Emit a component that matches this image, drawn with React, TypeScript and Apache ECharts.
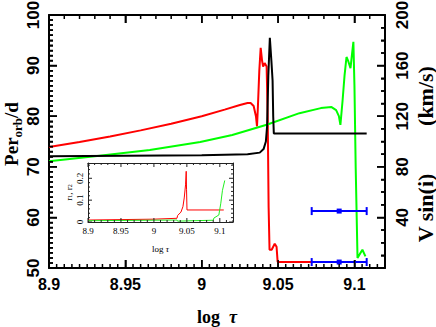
import React, { useEffect, useRef } from 'react';
import * as echarts from 'echarts';

// ---- data (log tau, value) ----
const redPer: [number, number][] = [
  [8.9, 73.9], [8.92, 74.9], [8.94, 76.0], [8.96, 77.2], [8.98, 78.5], [9.0, 80.0],
  [9.015, 81.3], [9.025, 82.2], [9.03, 82.6], [9.032, 82.6], [9.034, 82.0], [9.0355, 80.0],
  [9.0362, 78.0], [9.0368, 82], [9.0377, 89], [9.0386, 93.5], [9.0395, 91], [9.0402, 89.8],
  [9.0412, 90.5], [9.0425, 89.8], [9.0432, 80], [9.0438, 62], [9.0444, 53.6], [9.0458, 53.6],
  [9.0478, 54.8], [9.049, 54.2], [9.0497, 51.2], [9.108, 51.2],
];
const blackPer: [number, number][] = [
  [8.9, 72.1], [8.95, 72.2], [9.0, 72.3], [9.03, 72.5], [9.038, 72.8], [9.0405, 73.5],
  [9.042, 75], [9.0428, 78], [9.0436, 88], [9.0446, 95.5], [9.0456, 91], [9.0464, 87],
  [9.0468, 80], [9.0472, 76.6], [9.108, 76.6],
];
const greenPer: [number, number][] = [
  [8.9, 71.1], [8.933, 72.2], [8.966, 73.3], [8.999, 74.9], [9.02, 76.3], [9.0425, 78.3],
  [9.064, 80.6], [9.078, 81.6], [9.085, 81.8], [9.088, 81.2], [9.0898, 80], [9.0908, 78.3],
  [9.0922, 83], [9.0935, 88], [9.0948, 91.7], [9.0958, 91], [9.0974, 89.5], [9.0985, 92.5],
  [9.0993, 94.7], [9.1, 86], [9.1008, 70], [9.102, 52], [9.1052, 53.6], [9.1072, 52.3],
];
// V sin(i) measurements: centre log tau, v (km/s), half-width in log tau
const vsiniTau = [9.09, 9.09];
const vsiniVal = [45, 4.7];
const vsiniErr = [0.018, 0.018];

// inset: radii
const redR: [number, number][] = [
  [8.9, 0.009], [9.0, 0.013], [9.035, 0.017], [9.036, 0.03], [9.041, 0.045], [9.044, 0.07],
  [9.046, 0.11], [9.048, 0.17], [9.049, 0.232], [9.0495, 0.15], [9.0502, 0.055], [9.106, 0.055],
];
const greenR: [number, number][] = [
  [8.9, 0.006], [9.035, 0.009], [9.036, 0.004], [9.06, 0.006], [9.09, 0.008], [9.091, 0.018],
  [9.0985, 0.032], [9.1015, 0.086], [9.104, 0.145], [9.1075, 0.19],
];

const xTickLabels = ['8.9', '8.95', '9', '9.05', '9.1'];
const perTicks = ['50', '60', '70', '80', '90', '100'];
const vTicks = ['40', '80', '120', '160', '200'];
const rTicks = ['0', '0.1', '0.2'];

const SERIF = 'Liberation Serif';
const SANS = 'Liberation Sans';

// layout
const MAIN = { left: 49, top: 15, width: 336, height: 253 };
const INSET = { left: 88, top: 163, width: 145, height: 59 };
const X_RANGE = [8.9, 9.12];
const PER_RANGE = [50, 100];
const V_RANGE = [0, 200];
const R_RANGE = [0, 0.27];

const fmt = (v: number) => String(parseFloat(v.toFixed(3)));

// tick marks as short segments in data units (gap items break the line)
function tickSegs(range: number[], step: number, every: number, upto: number,
  at: number, dir: number, majorU: number, minorU: number, vertical: boolean) {
  const out: any[] = [];
  const n = Math.round((upto - range[0]) / step);
  for (let k = 0; k <= n; k++) {
    const v = range[0] + k * step;
    const len = (k % every === 0 ? majorU : minorU) * dir;
    if (vertical) { out.push([v, at], [v, at + len]); } else { out.push([at, v], [at + len, v]); }
    out.push(['-', '-']);
  }
  return out;
}

const majorTick = { show: true, inside: true, length: 8, lineStyle: { color: '#000', width: 1.5 } };

const frameAxis = (extra: any) => ({
  type: 'value',
  axisLine: { show: true, onZero: false, lineStyle: { color: '#000', width: 2 } },
  axisTick: { show: false },
  minorTick: { show: false },
  splitLine: { show: false },
  minorSplitLine: { show: false },
  axisLabel: { show: false },
  ...extra,
});

const tickSeries = (data: any[], xi: number, yi: number, color: string, width: number) => ({
  type: 'line', xAxisIndex: xi, yAxisIndex: yi, data, showSymbol: false, symbol: 'none',
  connectNulls: false, clip: false, lineStyle: { color, width }, z: 6,
});

export default function App() {
  const ref = useRef<HTMLDivElement>(null);
  useEffect(() => {
    const chart = echarts.init(ref.current!, null, { renderer: 'svg' });
    const blueData = vsiniTau.map((t, i) => [t, vsiniVal[i], t - vsiniErr[i], t + vsiniErr[i]]);
    const insetLine = { color: '#222', width: 1 };

    // pixel -> data unit conversions from the grid geometry
    const mx = (X_RANGE[1] - X_RANGE[0]) / MAIN.width;
    const mp = (PER_RANGE[1] - PER_RANGE[0]) / MAIN.height;
    const ix = (X_RANGE[1] - X_RANGE[0]) / INSET.width;
    const ir = (R_RANGE[1] - R_RANGE[0]) / INSET.height;

    const mainTicks = [
      ...tickSegs(X_RANGE, 0.005, 10, X_RANGE[1], PER_RANGE[0], 1, 8 * mp, 4 * mp, true),
      ...tickSegs(X_RANGE, 0.01, 5, X_RANGE[1], PER_RANGE[1], -1, 8 * mp, 4 * mp, true),
      ...tickSegs(PER_RANGE, 1, 10, PER_RANGE[1], X_RANGE[0], 1, 8 * mx, 4 * mx, false),
    ];
    const rightTicks = tickSegs(V_RANGE, 10, 4, V_RANGE[1], X_RANGE[1], -1, 8 * mx, 4 * mx, false);
    const insetTicks = [
      ...tickSegs(X_RANGE, 0.01, 5, X_RANGE[1], R_RANGE[0], 1, 4 * ir, 2 * ir, true),
      ...tickSegs(X_RANGE, 0.01, 5, X_RANGE[1], R_RANGE[1], -1, 4 * ir, 2 * ir, true),
      ...tickSegs(R_RANGE, 0.02, 5, 0.26, X_RANGE[0], 1, 4 * ix, 2 * ix, false),
      ...tickSegs(R_RANGE, 0.02, 5, 0.26, X_RANGE[1], -1, 4 * ix, 2 * ix, false),
    ];

    const titleStyle = { fill: '#000', fontFamily: SERIF, fontWeight: 'bold', fontSize: 22,
      textAlign: 'center', textVerticalAlign: 'middle' };
    const option: any = {
      animation: false,
      backgroundColor: '#fff',
      grid: [
        { ...MAIN, outerBoundsMode: 'none', containLabel: false },
        { ...INSET, outerBoundsMode: 'none', containLabel: false,
          show: true, backgroundColor: '#fff', borderWidth: 0 },
      ],
      xAxis: [
        frameAxis({
          gridIndex: 0, position: 'bottom', min: X_RANGE[0], max: X_RANGE[1], interval: 0.05,
          axisTick: majorTick,
          axisLabel: {
            show: true, margin: 8, color: '#000', fontSize: 16, fontWeight: 'bold', fontFamily: SANS,
            showMaxLabel: false,
            formatter: (v: number) => { const s = fmt(v); return xTickLabels.includes(s) ? s : ''; },
          },
          name: 'log  {t|τ}', nameLocation: 'middle', nameGap: 40,
          nameTextStyle: { color: '#000', fontSize: 18, fontWeight: 'bold', fontFamily: SERIF,
            rich: { t: { fontSize: 18, fontWeight: 'bold', fontStyle: 'italic', fontFamily: SERIF, color: '#000' } } },
        }),
        frameAxis({ gridIndex: 0, position: 'top', min: X_RANGE[0], max: X_RANGE[1], interval: 0.05, axisTick: majorTick }),
        frameAxis({
          gridIndex: 1, position: 'bottom', min: X_RANGE[0], max: X_RANGE[1], interval: 0.05,
          axisLine: { show: true, onZero: false, lineStyle: insetLine },
          axisLabel: {
            show: true, margin: 4, color: '#000', fontSize: 9, fontFamily: SERIF, showMaxLabel: false,
            formatter: (v: number) => { const s = fmt(v); return xTickLabels.includes(s) ? s : ''; },
          },
          name: 'log {t|τ}', nameLocation: 'middle', nameGap: 22,
          nameTextStyle: { color: '#000', fontSize: 9, fontFamily: SERIF,
            rich: { t: { fontSize: 9, fontStyle: 'italic', fontFamily: SERIF, color: '#000' } } },
        }),
        frameAxis({ gridIndex: 1, position: 'top', min: X_RANGE[0], max: X_RANGE[1], interval: 0.05,
          axisLine: { show: true, onZero: false, lineStyle: insetLine } }),
      ],
      yAxis: [
        frameAxis({
          gridIndex: 0, position: 'left', min: PER_RANGE[0], max: PER_RANGE[1], interval: 10,
          axisTick: majorTick,
          minorTick: { show: true, splitNumber: 10, length: 4, lineStyle: { color: '#000', width: 1.5 } },
          axisLabel: { show: true, rotate: 90, margin: 7, color: '#000', fontSize: 17, fontWeight: 'bold', fontFamily: SANS,
            formatter: (v: number) => { const s = fmt(v); return perTicks.includes(s) ? s : ''; } },
        }),
        frameAxis({
          gridIndex: 0, position: 'right', min: V_RANGE[0], max: V_RANGE[1], interval: 40,
          axisTick: majorTick,
          minorTick: { show: true, splitNumber: 4, length: 4, lineStyle: { color: '#000', width: 1.5 } },
          axisLabel: { show: true, rotate: 90, margin: 9, color: '#000', fontSize: 17, fontWeight: 'bold', fontFamily: SANS,
            formatter: (v: number) => { const s = fmt(v); return vTicks.includes(s) ? s : ''; } },
        }),
        frameAxis({
          gridIndex: 1, position: 'left', min: R_RANGE[0], max: R_RANGE[1], interval: 0.1,
          axisLine: { show: true, onZero: false, lineStyle: insetLine },
          axisLabel: { show: true, rotate: 90, margin: 4, color: '#000', fontSize: 9, fontFamily: SERIF, showMaxLabel: false,
            formatter: (v: number) => { const s = fmt(v); return rTicks.includes(s) ? s : ''; } },
          name: 'r{s|1}, r{s|2}', nameLocation: 'middle', nameGap: 15,
          nameTextStyle: { color: '#000', fontSize: 9, fontFamily: SERIF,
            rich: { s: { fontSize: 6, fontFamily: SERIF, color: '#000', verticalAlign: 'bottom', lineHeight: 6 } } },
        }),
        frameAxis({ gridIndex: 1, position: 'right', min: R_RANGE[0], max: R_RANGE[1], interval: 0.1,
          axisLine: { show: true, onZero: false, lineStyle: insetLine } }),
      ],
      graphic: { elements: [
        {
          type: 'text', x: 11, y: 134, rotation: Math.PI / 2, z: 10,
          style: {
            text: '{m|Per}{s|orb}{m|/d}', textAlign: 'center', textVerticalAlign: 'middle', fill: '#000',
            fontFamily: SERIF, fontWeight: 'bold', fontSize: 19,
            rich: {
              m: { fontFamily: SERIF, fontWeight: 'bold', fontSize: 19, lineHeight: 19, verticalAlign: 'top', fill: '#000' },
              s: { fontFamily: SERIF, fontWeight: 'bold', fontSize: 13, lineHeight: 13, padding: [9, 0, 0, 0], verticalAlign: 'top', fill: '#000' },
            },
          },
        },
        { type: 'text', x: 425, y: 208, rotation: Math.PI / 2, z: 10, style: { ...titleStyle, text: 'V sin(i)' } },
        { type: 'text', x: 425, y: 96, rotation: Math.PI / 2, z: 10, style: { ...titleStyle, text: '(km/s)' } },
      ] },
      series: [
        { type: 'line', xAxisIndex: 0, yAxisIndex: 0, data: redPer, showSymbol: false, symbol: 'none',
          lineStyle: { color: '#ff0000', width: 2 }, z: 2 },
        { type: 'line', xAxisIndex: 0, yAxisIndex: 0, data: greenPer, showSymbol: false, symbol: 'none',
          lineStyle: { color: '#00ff00', width: 2 }, z: 2 },
        { type: 'line', xAxisIndex: 0, yAxisIndex: 0, data: blackPer, showSymbol: false, symbol: 'none',
          lineStyle: { color: '#000000', width: 2 }, z: 2 },
        {
          type: 'custom', xAxisIndex: 0, yAxisIndex: 1, data: blueData, encode: { x: 0, y: 1 }, z: 4,
          renderItem: (params: any, api: any) => {
            const v = api.value(1);
            const pL = api.coord([api.value(2), v]);
            const pH = api.coord([api.value(3), v]);
            const pC = api.coord([api.value(0), v]);
            const st = { stroke: '#0000ff', lineWidth: 2 };
            return {
              type: 'group',
              children: [
                { type: 'line', shape: { x1: pL[0], y1: pL[1], x2: pH[0], y2: pH[1] }, style: st },
                { type: 'line', shape: { x1: pL[0], y1: pL[1] - 4, x2: pL[0], y2: pL[1] + 4 }, style: st },
                { type: 'line', shape: { x1: pH[0], y1: pH[1] - 4, x2: pH[0], y2: pH[1] + 4 }, style: st },
                { type: 'rect', shape: { x: pC[0] - 2.5, y: pC[1] - 2.5, width: 5, height: 5 }, style: { fill: '#0000ff' } },
              ],
            };
          },
        },
        { type: 'line', xAxisIndex: 2, yAxisIndex: 2, data: redR, showSymbol: false, symbol: 'none',
          lineStyle: { color: '#ff0000', width: 1 }, z: 5 },
        { type: 'line', xAxisIndex: 2, yAxisIndex: 2, data: greenR, showSymbol: false, symbol: 'none',
          lineStyle: { color: '#22ee22', width: 1 }, z: 5 },
        tickSeries(mainTicks, 0, 0, '#000', 1.5),
        tickSeries(rightTicks, 0, 1, '#000', 1.5),
        tickSeries(insetTicks, 2, 2, '#222', 1),
      ],
    };
    chart.setOption(option);
    return () => chart.dispose();
  }, []);
  return (
    <div
      ref={ref}
      style={{ position: 'fixed', left: 0, top: 0, width: 436, height: 327, background: '#fff' }}
    />
  );
}
